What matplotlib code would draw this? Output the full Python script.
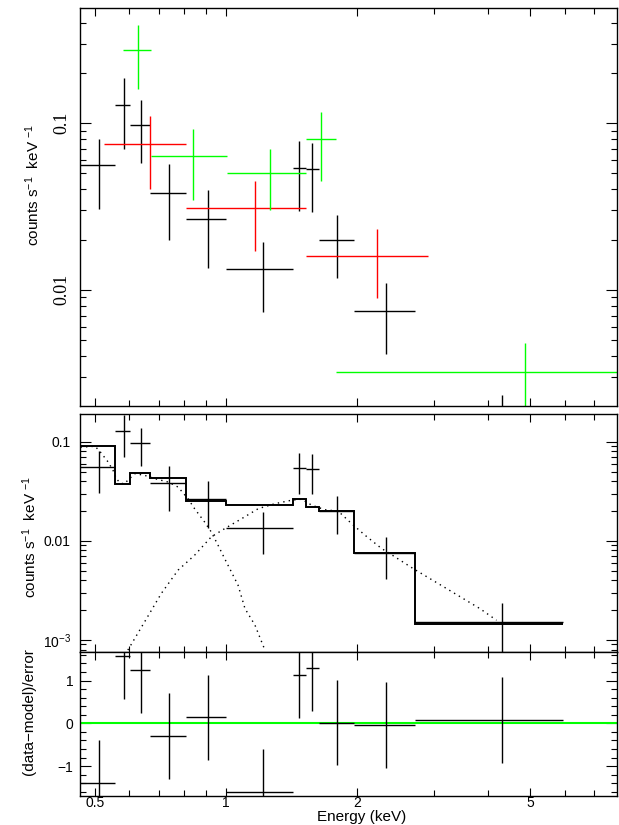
import numpy as np
import matplotlib
matplotlib.use("Agg")
import matplotlib.pyplot as plt
from matplotlib.ticker import FixedLocator, NullFormatter, LogLocator, MultipleLocator

plt.rcParams["font.family"] = ["Liberation Sans", "DejaVu Sans"]
plt.rcParams["mathtext.default"] = "regular"

# black spectrum (top and middle panels)
blk_lo = [0.462, 0.556, 0.602, 0.670, 0.808, 1.000, 1.424, 1.525, 1.635, 1.970, 2.720]
blk_hi = [0.556, 0.602, 0.670, 0.808, 1.000, 1.424, 1.525, 1.635, 1.970, 2.720, 5.950]
blk_e = [0.511, 0.583, 0.639, 0.741, 0.907, 1.214, 1.475, 1.578, 1.803, 2.337, 4.300]
blk_y = [0.0557, 0.128, 0.0973, 0.0383, 0.0267, 0.0134, 0.0537, 0.0527, 0.0200, 0.00751, 0.00153]
blk_err = [0.025, 0.058, 0.040, 0.0185, 0.0131, 0.0060, 0.0239, 0.0233, 0.0082, 0.0034, 0.00082]

# red spectrum (top panel)
red_lo = [0.525, 0.811, 1.525]
red_hi = [0.811, 1.525, 2.920]
red_e = [0.668, 1.168, 2.223]
red_y = [0.0751, 0.0310, 0.0160]
red_err = [0.035, 0.014, 0.0071]

# green spectrum (top panel)
grn_lo = [0.580, 0.674, 1.005, 1.525, 1.786]
grn_hi = [0.674, 1.005, 1.525, 1.786, 10.0]
grn_e = [0.627, 0.838, 1.260, 1.652, 4.876]
grn_y = [0.274, 0.0634, 0.0501, 0.0808, 0.00321]
grn_err = [0.113, 0.029, 0.020, 0.036, 0.00158]

# folded model and its two components (middle panel)
model_edges = [0.462, 0.556, 0.602, 0.670, 0.808, 1.000, 1.424, 1.525, 1.635, 1.970, 2.720, 5.950]
model_y = [0.0905, 0.0372, 0.0480, 0.0434, 0.0251, 0.0232, 0.0266, 0.0220, 0.0199, 0.00762, 0.00146]

soft_e = [0.463, 0.500, 0.513, 0.536, 0.550, 0.560, 0.570, 0.583, 0.617, 0.650, 0.686, 0.736,
          0.776, 0.818, 0.847, 0.893, 0.925, 0.959, 0.993, 1.029, 1.066, 1.106, 1.166, 1.229]
soft_y = [0.088, 0.090, 0.0800, 0.0624, 0.0515, 0.0424, 0.0386, 0.0375, 0.0476, 0.0458, 0.0424, 0.0392,
          0.0349, 0.0266, 0.0211, 0.0155, 0.0123, 0.00903, 0.00662, 0.00486, 0.00357, 0.00207, 0.00141, 0.00079]

hard_e = [0.595, 0.650, 0.710, 0.776, 0.847, 0.925, 0.993, 1.087, 1.186, 1.296, 1.416, 1.493,
          1.574, 1.689, 1.812, 1.945, 2.087, 2.281, 2.381, 2.693, 3.214, 3.835, 4.187]
hard_y = [0.00079, 0.00152, 0.00294, 0.00506, 0.00716, 0.01095, 0.01327, 0.01675, 0.0211, 0.0237, 0.0257, 0.0263,
          0.0229, 0.0206, 0.0199, 0.0149, 0.0114, 0.00834, 0.00743, 0.00525, 0.00330, 0.00207, 0.00158]

# residuals (data-model)/error
res = [-1.40, 1.57, 1.245, -0.29, 0.14, -1.61, 1.13, 1.30, 0.02, -0.04, 0.085]
res_err = [1.0] * 11

XMIN, XMAX = 0.463, 7.92


def spec(ax, e, lo, hi, y, err, color):
    e = np.array(e)
    ax.errorbar(e, y, xerr=[e - np.array(lo), np.array(hi) - e], yerr=err,
                fmt="none", ecolor=color, elinewidth=1.0, capsize=0)


def style_x(ax, labels):
    ax.set_xscale("log")
    ax.set_xlim(XMIN, XMAX)
    ax.xaxis.set_major_locator(FixedLocator([0.5, 1, 2, 5]))
    ax.xaxis.set_minor_locator(FixedLocator([0.6, 0.7, 0.8, 0.9, 3, 4, 6, 7]))
    ax.xaxis.set_minor_formatter(NullFormatter())
    if labels:
        ax.set_xticklabels(["0.5", "1", "2", "5"])
    ax.tick_params(which="both", direction="in", top=True, right=True,
                   labelbottom=labels, width=0.8, labelsize=10)
    ax.tick_params(axis="x", which="both", pad=0.5)
    ax.tick_params(which="major", length=6)
    ax.tick_params(which="minor", length=4)
    for s in ax.spines.values():
        s.set_linewidth(1.0)


fig = plt.figure(figsize=(6.19, 8.25), dpi=100)
L, W = 0.130, 0.8667
ax1 = fig.add_axes([L, 0.5079, W, 0.4824])
ax2 = fig.add_axes([L, 0.2093, W, 0.2885])
ax3 = fig.add_axes([L, 0.0355, W, 0.1738])

# top panel
spec(ax1, blk_e, blk_lo, blk_hi, blk_y, blk_err, "black")
spec(ax1, red_e, red_lo, red_hi, red_y, red_err, "#ff0000")
spec(ax1, grn_e, grn_lo, grn_hi, grn_y, grn_err, "#00ff00")
style_x(ax1, False)
ax1.set_yscale("log")
ax1.set_ylim(0.00201, 0.49)
ax1.yaxis.set_major_locator(FixedLocator([0.01, 0.1]))
ax1.set_yticklabels(["0.01", "0.1"])
ax1.yaxis.set_minor_locator(LogLocator(subs=np.arange(2, 10)))
ax1.yaxis.set_minor_formatter(NullFormatter())
ax1.tick_params(axis="y", which="major", length=8, pad=7)
for t in ax1.get_yticklabels():
    t.set_fontfamily("Liberation Serif")
    t.set_fontsize(13)
    t.set_rotation(90)
    t.set_va("center")
ax1.set_ylabel("counts s$^{-1}$  keV $^{-1}$", fontsize=11)
ax1.yaxis.set_label_coords(-0.071, 0.556)

# middle panel
ax2.plot(soft_e, soft_y, color="black", lw=1.0, linestyle=(0, (1, 3)))
ax2.plot(hard_e, hard_y, color="black", lw=1.0, linestyle=(0, (1, 3)))
ax2.stairs(model_y, model_edges, baseline=None, color="black", lw=1.4)
spec(ax2, blk_e, blk_lo, blk_hi, blk_y, blk_err, "black")
style_x(ax2, False)
ax2.set_yscale("log")
ax2.set_ylim(7.5e-4, 0.189)
ax2.yaxis.set_major_locator(FixedLocator([0.001, 0.01, 0.1]))
ax2.set_yticklabels(["10$^{-3}$", "0.01", "0.1"])
ax2.yaxis.set_minor_locator(LogLocator(subs=np.arange(2, 10)))
ax2.yaxis.set_minor_formatter(NullFormatter())
ax2.tick_params(axis="y", which="major", length=8, pad=7)
ax2.set_ylabel("counts s$^{-1}$  keV $^{-1}$", fontsize=11)
ax2.yaxis.set_label_coords(-0.077, 0.486)

# bottom panel
ax3.axhline(0, color="#00ff00", lw=1.5)
spec(ax3, blk_e, blk_lo, blk_hi, res, res_err, "black")
style_x(ax3, True)
ax3.set_ylim(-1.69, 1.66)
ax3.yaxis.set_major_locator(FixedLocator([-1, 0, 1]))
ax3.yaxis.set_minor_locator(MultipleLocator(0.2))
ax3.tick_params(axis="y", which="major", length=8, pad=5)
ax3.set_ylabel("(data\u2212model)/error", fontsize=11)
ax3.yaxis.set_label_coords(-0.082, 0.587)
ax3.set_xlabel("Energy (keV)", fontsize=11)
ax3.xaxis.set_label_coords(0.524, -0.10)

fig.savefig("out.png", dpi=100)
